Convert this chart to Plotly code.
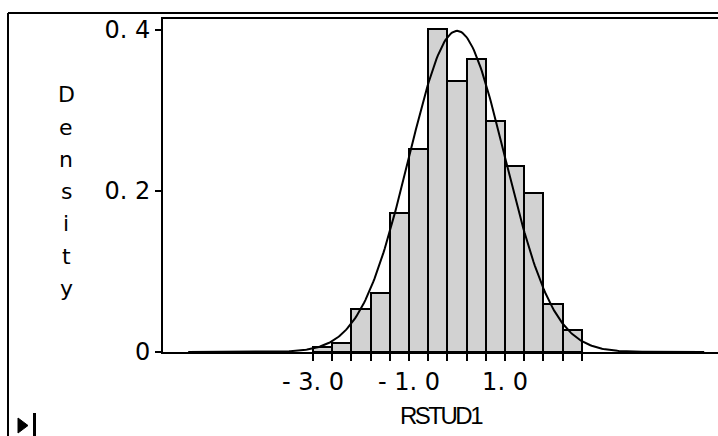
import numpy as np
import plotly.graph_objects as go

# ---- data ----
bin_left = [-3.0, -2.6, -2.2, -1.8, -1.4, -1.0, -0.6, -0.2, 0.2, 0.6, 1.0, 1.4, 1.8, 2.2]
bin_width = 0.4
density = [0.0066, 0.0116, 0.053, 0.0737, 0.1727, 0.252, 0.401, 0.337,
           0.364, 0.287, 0.231, 0.198, 0.0596, 0.0273]
# fitted normal curve parameters and drawn range
curve_mu = 0.0
curve_sigma = 1.0
curve_from = -5.6
curve_to = 5.15
x_tick_vals = [-3.0, -2.6, -2.2, -1.8, -1.4, -1.0, -0.6, -0.2, 0.2, 0.6, 1.0, 1.4, 1.8, 2.2, 2.6]
x_tick_text = ["- 3. 0", "", "", "", "", "- 1. 0", "", "", "", "", "1. 0", "", "", "", ""]
y_tick_vals = [0.0, 0.2, 0.4]
y_tick_text = ["0", "0. 2", "0. 4"]
y_title = "Density"
x_title = "RSTUD1"

W, H = 718, 436
ML, MR, MT, MB = 163, 0, 19, 84
PW, PH = W - ML - MR, H - MT - MB

def px(x):
    return (x - ML) / PW

def py(y):
    return (H - MB - y) / PH

FONT = "Liberation Sans, Arial, sans-serif"
WFONT = "DejaVu Sans, Liberation Sans, sans-serif"

centers = [b + bin_width / 2 for b in bin_left]
cx = np.linspace(curve_from, curve_to, 400)
cy = np.exp(-0.5 * ((cx - curve_mu) / curve_sigma) ** 2) / (curve_sigma * np.sqrt(2 * np.pi))

fig = go.Figure()
fig.add_trace(go.Bar(
    x=centers, y=density, width=[bin_width] * len(centers),
    marker=dict(color="#d2d2d2", line=dict(color="black", width=2)),
    hoverinfo="skip",
))
fig.add_trace(go.Scatter(
    x=cx, y=cy, mode="lines", line=dict(color="black", width=2),
    hoverinfo="skip",
))

fig.update_layout(
    width=W, height=H,
    margin=dict(l=ML, r=MR, t=MT, b=MB, pad=0),
    paper_bgcolor="white", plot_bgcolor="white",
    showlegend=False, bargap=0,
    font=dict(family=FONT, color="black"),
    xaxis=dict(
        range=[-6.125, -6.125 + PW / 48.0],
        tickmode="array", tickvals=x_tick_vals, ticktext=x_tick_text,
        ticks="outside", ticklen=7, tickwidth=2, tickcolor="black",
        showline=True, linewidth=2, linecolor="black", mirror=True,
        showgrid=False, zeroline=False,
        tickfont=dict(size=24, family=WFONT),
        title=dict(text='<span style="letter-spacing:-2.5px">' + x_title + '</span>',
                   font=dict(size=24, family=FONT), standoff=12),
    ),
    yaxis=dict(
        range=[0, 0.4137],
        tickmode="array", tickvals=y_tick_vals, ticktext=y_tick_text,
        ticks="outside", ticklen=6, tickwidth=2, tickcolor="black",
        showline=True, linewidth=2, linecolor="black", mirror=False,
        showgrid=False, zeroline=False,
        tickfont=dict(size=24, family=WFONT),
    ),
)

# vertical stacked y-axis title
for i, ch in enumerate(y_title):
    fig.add_annotation(
        text=ch, xref="paper", yref="paper",
        x=px(66), y=py(95 + 32.2 * i), xanchor="center", yanchor="middle",
        showarrow=False, font=dict(size=22, family=WFONT, color="black"),
    )

# outer frame lines
fig.add_shape(type="line", xref="paper", yref="paper",
              x0=px(8), y0=py(13), x1=px(720), y1=py(13),
              line=dict(color="black", width=2))
fig.add_shape(type="line", xref="paper", yref="paper",
              x0=px(8), y0=py(13), x1=px(8), y1=py(440),
              line=dict(color="black", width=2))

# small "go to end" icon bottom-left
fig.add_shape(type="path", xref="paper", yref="paper",
              path=f"M {px(18)} {py(418)} L {px(18)} {py(433)} L {px(28)} {py(425.5)} Z",
              fillcolor="black", line=dict(color="black", width=1))
fig.add_shape(type="rect", xref="paper", yref="paper",
              x0=px(33), y0=py(413), x1=px(36), y1=py(437),
              fillcolor="black", line=dict(color="black", width=0))

fig.write_html("out.html")
